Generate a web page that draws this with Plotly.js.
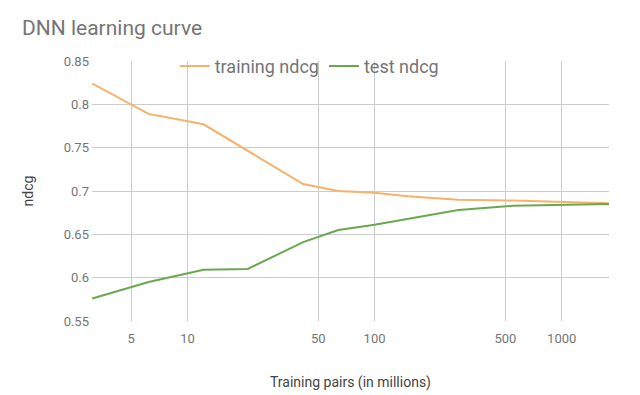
<!DOCTYPE html>
<html>
<head>
<meta charset="utf-8">
<script src="https://cdn.plot.ly/plotly-3.0.1.min.js"></script>
<style>html,body{margin:0;padding:0;background:#fff;}#chart{width:640px;height:395px;}</style>
</head>
<body>
<div id="chart"></div>
<script>
// Training pairs (in millions)
var trainingPairs = [3.1, 6.2, 12.2, 21, 41.5, 64, 100, 150, 280, 550, 1790];
var trainingNdcg = [0.824, 0.789, 0.777, 0.746, 0.708, 0.700, 0.698, 0.694, 0.690, 0.689, 0.686];
var testNdcg = [0.576, 0.595, 0.609, 0.610, 0.641, 0.655, 0.661, 0.668, 0.678, 0.683, 0.685];
var xTickVals = [5, 10, 50, 100, 500, 1000];
var xTickText = ["5", "10", "50", "100", "500", "1000"];
var seriesNames = ["training ndcg", "test ndcg"];

var grey = "#757575";
var data = [
  {x: trainingPairs, y: trainingNdcg, name: seriesNames[0], type: "scatter", mode: "lines",
   line: {color: "#F6B26B", width: 2}},
  {x: trainingPairs, y: testNdcg, name: seriesNames[1], type: "scatter", mode: "lines",
   line: {color: "#6AA84F", width: 2}}
];
var layout = {
  width: 640, height: 395,
  margin: {l: 92, r: 31, t: 61, b: 74},
  paper_bgcolor: "#fff", plot_bgcolor: "#fff",
  font: {family: "Roboto, sans-serif", color: grey, size: 13},
  title: {text: "DNN learning curve", x: 22/640, xanchor: "left", xref: "container",
          y: 1 - 28/395, yanchor: "middle", yref: "container",
          font: {family: "Roboto, sans-serif", size: 21, color: grey}},
  xaxis: {type: "log", range: [Math.log10(3.09), Math.log10(1790)],
          tickvals: xTickVals, ticktext: xTickText, showgrid: true, gridcolor: "#cccccc",
          zeroline: false, showline: false, ticks: "", ticklabelstandoff: 8,
          tickfont: {size: 13, color: grey},
          title: {text: "Training pairs (in millions)", standoff: 32, font: {size: 14, color: "#444"}}},
  yaxis: {range: [0.55, 0.85], dtick: 0.05, tick0: 0.55, showgrid: true, gridcolor: "#cccccc",
          zeroline: false, showline: false, ticks: "", ticklabelstandoff: 2,
          tickfont: {size: 13, color: grey},
          title: {text: "ndcg", standoff: 26, font: {size: 14, color: "#444"}}},
  showlegend: true,
  legend: {orientation: "h", x: 0.16, xanchor: "left", y: 0.98, yanchor: "middle",
           font: {size: 18, color: grey}, bgcolor: "rgba(0,0,0,0)", itemwidth: 30, tracegroupgap: 0}
};
Plotly.newPlot("chart", data, layout, {displayModeBar: false, staticPlot: true});
</script>
</body>
</html>
